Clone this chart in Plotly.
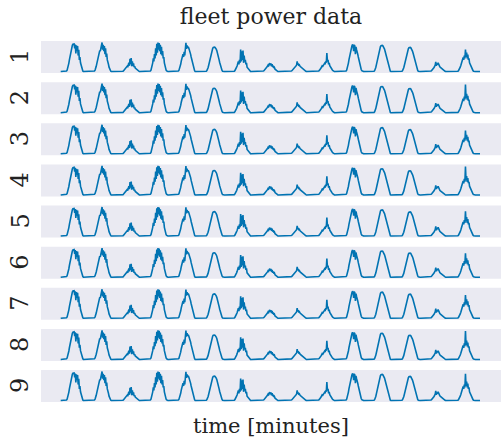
import numpy as np
import plotly.graph_objects as go

# Normalised fleet output (0-100) for 15 days, half-hourly from 04:30 to 19:30.
day_profiles = [
    [0, 2, 5, 11, 19, 29, 41, 53, 65, 75, 84, 90, 94, 96, 95, 80, 93, 62, 90, 70, 88, 55, 75, 40, 50, 30, 20, 12, 6, 2, 0],
    [0, 2, 5, 10, 18, 27, 38, 48, 58, 66, 72, 70, 78, 85, 100, 75, 92, 70, 88, 60, 80, 50, 62, 40, 35, 25, 15, 9, 4, 1, 0],
    [0, 0, 1, 3, 5, 7, 9, 12, 14, 18, 15, 22, 30, 20, 44, 25, 46, 18, 35, 20, 28, 15, 18, 12, 10, 8, 5, 3, 2, 1, 0],
    [0, 2, 5, 12, 20, 30, 45, 35, 60, 45, 80, 55, 95, 65, 100, 75, 98, 70, 92, 60, 85, 55, 70, 45, 50, 30, 18, 10, 5, 2, 0],
    [0, 2, 4, 9, 16, 25, 36, 48, 45, 60, 50, 68, 55, 80, 99, 78, 90, 82, 85, 80, 75, 68, 60, 50, 40, 30, 20, 12, 6, 2, 0],
    [0, 1, 3, 7, 13, 21, 31, 42, 52, 61, 69, 75, 80, 83, 84, 84, 83, 81, 77, 72, 66, 58, 49, 40, 31, 22, 14, 8, 4, 1, 0],
    [0, 1, 3, 6, 10, 15, 20, 28, 35, 25, 40, 30, 76, 35, 70, 40, 72, 30, 55, 35, 40, 25, 30, 15, 12, 8, 5, 3, 1, 0, 0],
    [0, 0, 1, 2, 3, 5, 7, 9, 11, 14, 18, 22, 20, 26, 29, 22, 28, 18, 25, 15, 20, 12, 14, 8, 6, 4, 2, 1, 0, 0, 0],
    [0, 0, 1, 2, 3, 5, 7, 9, 12, 14, 17, 20, 22, 35, 24, 28, 20, 22, 18, 16, 14, 12, 11, 9, 8, 6, 4, 2, 1, 0, 0],
    [0, 1, 2, 4, 6, 9, 12, 16, 20, 18, 24, 22, 28, 25, 35, 30, 64, 35, 40, 25, 30, 20, 15, 12, 10, 7, 4, 2, 1, 0, 0],
    [0, 2, 5, 11, 19, 29, 41, 53, 64, 74, 82, 88, 93, 90, 70, 92, 88, 60, 85, 75, 70, 60, 50, 40, 30, 21, 13, 7, 3, 1, 0],
    [0, 1, 3, 7, 14, 23, 34, 45, 56, 66, 74, 81, 86, 89, 90, 90, 89, 86, 82, 77, 70, 62, 53, 43, 33, 24, 15, 9, 4, 1, 0],
    [0, 1, 3, 7, 13, 21, 31, 42, 52, 61, 69, 75, 79, 82, 84, 83, 82, 79, 75, 70, 64, 56, 48, 39, 30, 21, 14, 8, 4, 1, 0],
    [0, 0, 1, 2, 4, 6, 8, 11, 14, 18, 22, 33, 20, 28, 24, 30, 22, 20, 16, 14, 12, 10, 8, 6, 4, 3, 2, 1, 0, 0, 0],
    [0, 1, 3, 6, 10, 15, 21, 28, 35, 42, 48, 40, 55, 45, 76, 50, 65, 45, 58, 40, 45, 30, 25, 18, 12, 8, 5, 3, 1, 0, 0],
]

# Peak of the last day's midday spike for each unit.
unit_last_spike = [76, 97, 80, 98, 85, 82, 80, 98, 92]

unit_labels = ["1", "2", "3", "4", "5", "6", "7", "8", "9"]

LINE_COLOR = "#0173B2"
PANEL_BG = "#EAEAF2"
TEXT_COLOR = "#222222"
FONT = "DejaVu Serif"

N_DAYS = len(day_profiles)
STEP_MIN = 30
SUNRISE_MIN = 4 * 60 + 30
SAMPLES_PER_DAY = 24 * 60 // STEP_MIN


def unit_series(spike):
    t, p = [], []
    for d, prof in enumerate(day_profiles):
        prof = list(prof)
        if d == N_DAYS - 1:
            prof[14] = spike
        for k in range(SAMPLES_PER_DAY):
            minute = k * STEP_MIN
            idx = (minute - SUNRISE_MIN) // STEP_MIN
            val = prof[idx] if 0 <= idx < len(prof) else 0
            t.append(d * 1440 + minute)
            p.append(val)
    t.append(N_DAYS * 1440)
    p.append(0)
    return np.array(t), np.array(p, dtype=float)


W, H = 501, 440
M_L, M_R, M_T, M_B = 41, 0, 41, 38
n = len(unit_labels)
plot_h = H - M_T - M_B
panel_h = 32
gap = (plot_h - n * panel_h) / (n - 1)

fig = go.Figure()
layout = {}
for i, (lab, spike) in enumerate(zip(unit_labels, unit_last_spike)):
    t, p = unit_series(spike)
    ax = "" if i == 0 else str(i + 1)
    fig.add_trace(go.Scatter(
        x=t, y=p, mode="lines", xaxis="x" + ax, yaxis="y" + ax,
        line=dict(color=LINE_COLOR, width=1.6), showlegend=False,
        hoverinfo="skip",
    ))
    top_px = i * (panel_h + gap)
    d1 = 1 - top_px / plot_h
    d0 = 1 - (top_px + panel_h) / plot_h
    pmax = p.max()
    layout["xaxis" + ax] = dict(
        domain=[0, 1], anchor="y" + ax, range=[-1015, N_DAYS * 1440 + 1080],
        showgrid=False, zeroline=False, showticklabels=False, ticks="",
        showline=False,
    )
    layout["yaxis" + ax] = dict(
        domain=[d0, d1], anchor="x" + ax, range=[-0.05 * pmax, 1.05 * pmax],
        showgrid=False, zeroline=False, showticklabels=False, ticks="",
        showline=False,
    )
    fig.add_annotation(
        text=lab, textangle=-90, xref="paper", yref="y" + ax + " domain",
        x=(20 - M_L) / (W - M_L - M_R), y=0.5, xanchor="center", yanchor="middle",
        showarrow=False, font=dict(family=FONT, size=24, color=TEXT_COLOR),
    )
    layout.setdefault("shapes", []).append(dict(
        type="rect", xref="x" + ax + " domain", yref="y" + ax + " domain",
        x0=0, x1=1, y0=0, y1=1, fillcolor=PANEL_BG, line=dict(width=0), layer="below",
    ))

fig.update_layout(**layout)
fig.update_layout(
    width=W, height=H,
    margin=dict(l=M_L, r=M_R, t=M_T, b=M_B),
    paper_bgcolor="white", plot_bgcolor="white",
    title=dict(text="fleet power data", x=271 / W, xanchor="center",
               y=1 - 16 / H, yanchor="middle",
               font=dict(family=FONT, size=22, color=TEXT_COLOR)),
)
fig.add_annotation(
    text="time [minutes]", xref="paper", yref="paper",
    x=0.5, y=-(426 - (H - M_B)) / plot_h, xanchor="center", yanchor="middle",
    showarrow=False, font=dict(family=FONT, size=21, color=TEXT_COLOR),
)

fig.write_html("out.html")
